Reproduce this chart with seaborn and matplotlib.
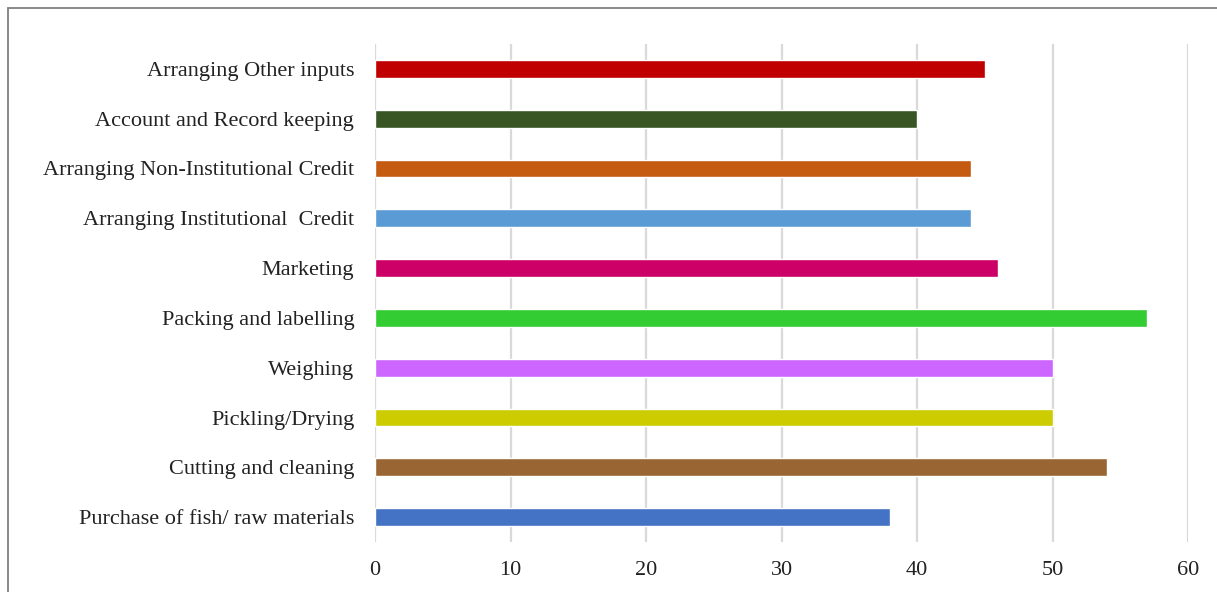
import matplotlib
matplotlib.use("Agg")
import matplotlib.pyplot as plt
import pandas as pd
import seaborn as sns
from matplotlib.patches import Rectangle

# categories listed bottom -> top as in the picture
categories = [
    "Purchase of fish/ raw materials",
    "Cutting and cleaning",
    "Pickling/Drying",
    "Weighing",
    "Packing and labelling",
    "Marketing",
    "Arranging Institutional  Credit",
    "Arranging Non-Institutional Credit",
    "Account and Record keeping",
    "Arranging Other inputs",
]
values = [38, 54, 50, 50, 57, 46, 44, 44, 40, 45]
colors = [
    "#4472C4", "#996633", "#CCCC00", "#CC66FF", "#33CC33",
    "#CC0066", "#5B9BD5", "#C55A11", "#375623", "#C00000",
]
xticks = [0, 10, 20, 30, 40, 50, 60]

sns.set_theme(style="white")
plt.rcParams["font.family"] = ["Liberation Serif", "DejaVu Serif"]

df = pd.DataFrame({"task": categories[::-1], "value": values[::-1]})

fig = plt.figure(figsize=(12.17, 5.92), dpi=100)
ax = fig.add_axes([375 / 1217, 1 - 542 / 592, (1188 - 375) / 1217, (542 - 44) / 592])

sns.barplot(data=df, x="value", y="task", hue="task", palette=colors[::-1],
            legend=False, width=0.36, ax=ax, saturation=1)

ax.set_xlim(0, 60)
ax.set_xticks(xticks)
ax.set_xticklabels([str(t) for t in xticks])
ax.set_xlabel("")
ax.set_ylabel("")
ax.xaxis.grid(True, color="#d9d9d9", lw=1.6)
ax.set_axisbelow(True)
for s in ax.spines.values():
    s.set_visible(False)
ax.tick_params(axis="x", length=0, pad=14, labelsize=16, colors="#222222")
ax.tick_params(axis="y", length=0, pad=15, labelsize=16, colors="#222222")

# outer border of the chart area
fig.patches.append(Rectangle((8 / 1217, -0.1), 1.2, 1 - 7.5 / 592 + 0.1,
                             transform=fig.transFigure, fill=False,
                             edgecolor="#7f7f7f", lw=1.3))

fig.savefig("out.png", dpi=100)
